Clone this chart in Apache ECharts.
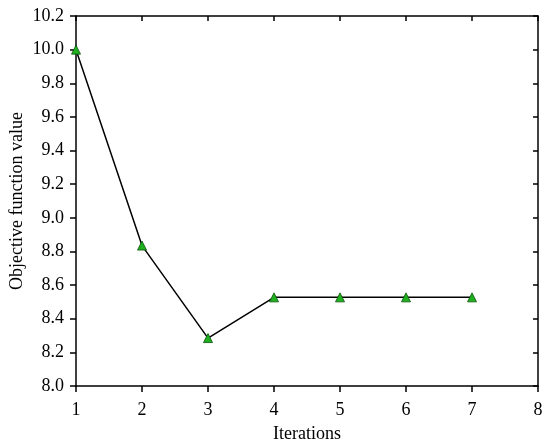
<!DOCTYPE html>
<html>
<head>
<meta charset="utf-8">
<script src="https://cdn.jsdelivr.net/npm/echarts@6/dist/echarts.min.js"></script>
<style>
html, body { margin: 0; padding: 0; background: #fff; }
#main { width: 550px; height: 445px; }
</style>
</head>
<body>
<div id="main"></div>
<script>
var iterations = [1, 2, 3, 4, 5, 6, 7];
var objValues = [10.0, 8.835, 8.285, 8.527, 8.527, 8.527, 8.527];

var font = 'Liberation Serif';
var chart = echarts.init(document.getElementById('main'));

var points = [];
for (var i = 0; i < iterations.length; i++) {
    points.push([iterations[i], objValues[i]]);
}

var axisLine = { show: true, lineStyle: { color: '#000', width: 1.5 } };

var option = {
    animation: false,
    backgroundColor: '#fff',
    grid: { left: 76, right: 12, top: 16, bottom: 59, containLabel: false, outerBoundsMode: 'none' },
    xAxis: [
        {
            type: 'value',
            min: 1, max: 8, interval: 1,
            name: 'Iterations',
            nameLocation: 'middle',
            nameGap: 39,
            nameMoveOverlap: false,
            nameTextStyle: { fontFamily: font, fontSize: 18, color: '#000' },
            axisLine: axisLine,
            axisTick: { show: true, inside: false, length: 6, lineStyle: { color: '#000', width: 1.5 } },
            axisLabel: { fontFamily: font, fontSize: 18, color: '#000', margin: 15 },
            splitLine: { show: false }
        },
        {
            type: 'value', position: 'top',
            min: 1, max: 8, interval: 1,
            axisLine: axisLine,
            axisTick: { show: true, inside: true, length: 5, lineStyle: { color: '#000', width: 1.5 } },
            axisLabel: { show: false },
            splitLine: { show: false }
        }
    ],
    yAxis: [
        {
            type: 'value',
            min: 8.0, max: 10.2, interval: 0.2,
            name: 'Objective function value',
            nameLocation: 'middle',
            nameGap: 50,
            nameMoveOverlap: false,
            nameTextStyle: { fontFamily: font, fontSize: 18, color: '#000' },
            axisLine: axisLine,
            axisTick: { show: true, inside: false, length: 6, lineStyle: { color: '#000', width: 1.5 } },
            axisLabel: {
                fontFamily: font, fontSize: 18, color: '#000', margin: 12,
                formatter: function (v) { return v.toFixed(1); }
            },
            splitLine: { show: false }
        },
        {
            type: 'value', position: 'right',
            min: 8.0, max: 10.2, interval: 0.2,
            axisLine: axisLine,
            axisTick: { show: true, inside: true, length: 5, lineStyle: { color: '#000', width: 1.5 } },
            axisLabel: { show: false },
            splitLine: { show: false }
        }
    ],
    series: [
        {
            type: 'line',
            data: points,
            symbol: 'triangle',
            symbolSize: 9,
            itemStyle: { color: '#1fb01f', borderColor: '#0a500a', borderWidth: 0.8 },
            lineStyle: { color: '#000', width: 1.5 },
            z: 3
        }
    ]
};

chart.setOption(option);
</script>
</body>
</html>
